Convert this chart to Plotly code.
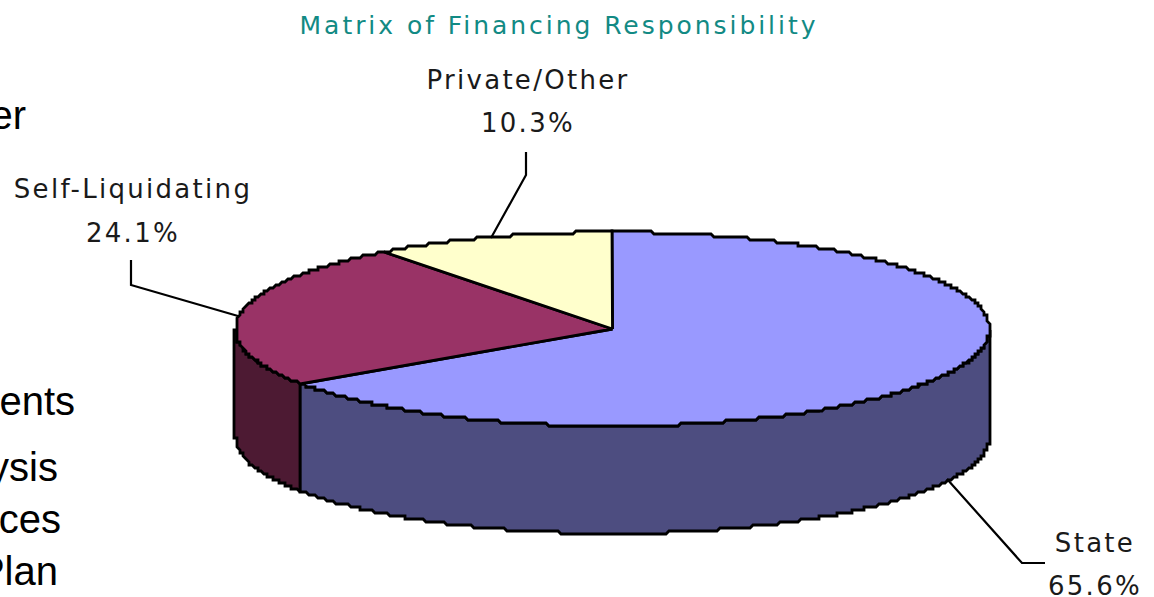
import numpy as np
import plotly.graph_objects as go

categories = ["State", "Self-Liquidating", "Private/Other"]
shares = [65.6, 24.1, 10.3]
top_colors = ["#9999FF", "#993366", "#FFFFCC"]
side_colors = ["#4D4D80", "#4D1A33", "#808066"]
title_text = "Matrix of Financing Responsibility"
cut_off_words = ["er", "ents", "ysis", "ces", "Plan"]

CX, CY, RX, RY, DEPTH = 612.5, 329, 377, 97, 107.5
LW = 2.8
GRID = 3.0

def pt(a, drop=0):
    a = np.asarray(a, float)
    x = CX + RX * np.sin(a)
    y = CY - RY * np.cos(a) + drop
    return np.round(x / GRID) * GRID, np.round(y / GRID) * GRID

def arc(a0, a1, drop=0):
    n = max(2, int(abs(a1 - a0) * 120))
    return pt(np.linspace(a0, a1, n), drop)

fig = go.Figure()
edges = np.cumsum([0] + shares) / sum(shares) * 2 * np.pi

# side walls, only the front half of the rim is visible
for i in range(len(shares)):
    a0, a1 = max(edges[i], np.pi / 2), min(edges[i + 1], 3 * np.pi / 2)
    if a1 <= a0:
        continue
    x0, y0 = arc(a0, a1)
    x1, y1 = arc(a1, a0, DEPTH)
    fig.add_trace(go.Scatter(
        x=np.r_[x0, x1, x0[0]], y=np.r_[y0, y1, y0[0]], mode="lines", fill="toself",
        fillcolor=side_colors[i], line=dict(color="black", width=LW), hoverinfo="skip"))

# top face slices
for i in range(len(shares)):
    x, y = arc(edges[i], edges[i + 1])
    fig.add_trace(go.Scatter(
        x=np.r_[CX, x, CX], y=np.r_[CY, y, CY], mode="lines", fill="toself",
        fillcolor=top_colors[i], line=dict(color="black", width=LW), hoverinfo="skip"))

# leader lines
leaders = [
    ([947, 1022, 1045], [479, 563, 563]),
    ([238, 131, 131], [316, 285, 260]),
    ([491, 526, 526], [238, 175, 152]),
]
for lx, ly in leaders:
    fig.add_trace(go.Scatter(x=lx, y=ly, mode="lines",
                             line=dict(color="black", width=2.2), hoverinfo="skip"))

label_pos = [(1095, 545, 588), (133, 191, 235), (528, 82, 125)]
LABEL_FONT = dict(family="DejaVu Sans", size=26, color="#1a1a1a")
for cat, val, (lx, y1, y2) in zip(categories, shares, label_pos):
    fig.add_trace(go.Scatter(x=[lx, lx], y=[y1, y2], mode="text",
                             text=[cat, f"{val:.1f}%"], textposition="middle center",
                             textfont=LABEL_FONT, hoverinfo="skip", cliponaxis=False))

fig.add_trace(go.Scatter(x=[559], y=[28], mode="text", text=[title_text],
                         textposition="middle center",
                         textfont=dict(family="DejaVu Sans", size=25, color="#128A84"),
                         hoverinfo="skip"))

fig.add_trace(go.Scatter(x=[26, 75, 58, 61, 58], y=[119, 405, 471, 523, 575], mode="text",
                         text=cut_off_words, textposition="middle left",
                         textfont=dict(family="Liberation Sans", size=40, color="black"),
                         hoverinfo="skip", cliponaxis=False))

fig.update_layout(
    width=1154, height=597, margin=dict(l=0, r=0, t=0, b=0),
    paper_bgcolor="white", plot_bgcolor="white", showlegend=False,
    xaxis=dict(range=[0, 1154], visible=False, fixedrange=True),
    yaxis=dict(range=[597, 0], visible=False, fixedrange=True),
)
post = """
document.body.style.margin = '0';
document.documentElement.style.overflow = 'hidden';
document.querySelectorAll('.textpoint text').forEach(function (t) {
  if ((t.style.fontFamily || '').indexOf('DejaVu') >= 0) {
    t.style.letterSpacing = t.style.fontSize === '25px' ? '2.95px' : '2.3px';
  }
});
"""
fig.write_html("out.html", config=dict(displayModeBar=False), post_script=post)
